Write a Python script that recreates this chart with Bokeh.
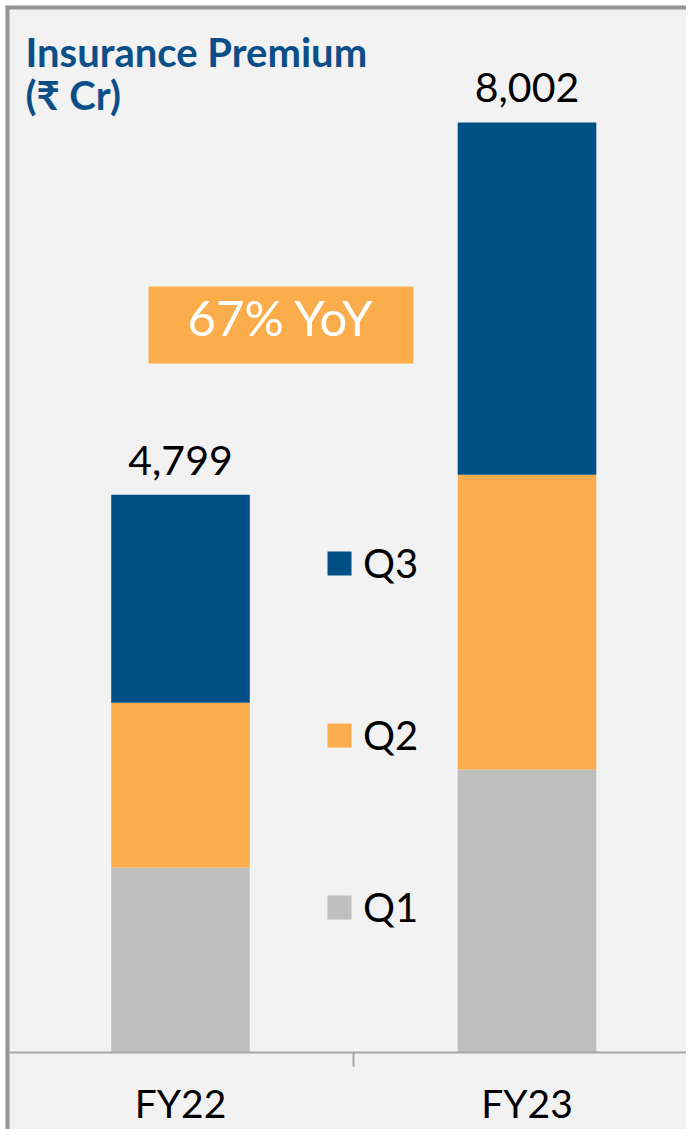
from bokeh.plotting import figure
from bokeh.models import (Range1d, Label, LabelSet, Span, FixedTicker, ColumnDataSource,
                          Legend, LegendItem, BoxAnnotation)
from bokeh.core.properties import value
from bokeh.embed import file_html
from bokeh.resources import INLINE

# ---- data ----
categories = ["FY22", "FY23"]
quarters = ["Q1", "Q2", "Q3"]
q1 = [1591, 2434]
q2 = [1419, 2538]
q3 = [1789, 3030]
colors = ["#BFBFBF", "#FBAD4C", "#005088"]
title_lines = ["Insurance Premium", "(₹ Cr)"]
yoy_text = "67% YoY"

FONT = "Lato"
W, H = 686, 1129
ML, MT = 5, 5                      # white strip left/top of the frame
X_C0, PX_X = 180.0, 346.5          # pixel centre of first category, px per category
Y_BASE, UNIT_PX = 1052.0, 8.6043   # baseline pixel row, data units per px


def dx(px):
    return 0.5 + (px - X_C0) / PX_X


def dy(py):
    return (Y_BASE - py) * UNIT_PX


x_start, x_end = dx(ML), dx(W)
y_start, y_end = dy(H), dy(MT)

xs = [i + 0.5 for i in range(len(categories))]
totals = [a + b + c for a, b, c in zip(q1, q2, q3)]
src = ColumnDataSource(dict(x=xs, Q1=q1, Q2=q2, Q3=q3, total=totals,
                            label=[f"{t:,}" for t in totals]))

p = figure(width=W, height=H, x_range=Range1d(x_start, x_end), y_range=Range1d(y_start, y_end),
           output_backend="svg", toolbar_location=None, y_axis_location=None,
           min_border_left=ML, min_border_top=MT, min_border_right=0, min_border_bottom=0,
           background_fill_color="#F2F2F2", border_fill_color="#FFFFFF", outline_line_color=None)
p.grid.visible = False

rs = p.vbar_stack(quarters, x="x", width=0.4, fill_color=colors, line_color=None, source=src)

ax = p.xaxis[0]
ax.fixed_location = 0
ax.ticker = FixedTicker(ticks=xs, minor_ticks=[(xs[i] + xs[i + 1]) / 2 for i in range(len(xs) - 1)])
ax.major_label_overrides = {x: c for x, c in zip(xs, categories)}
ax.major_tick_line_color = None
ax.major_tick_out = 0
ax.major_tick_in = 0
ax.minor_tick_line_color = "#A6A6A6"
ax.minor_tick_line_width = 2
ax.minor_tick_in = 0
ax.minor_tick_out = 14
ax.axis_line_color = "#A6A6A6"
ax.axis_line_width = 2
ax.major_label_text_font = FONT
ax.major_label_text_font_size = "39px"
ax.major_label_text_color = "#000000"
ax.major_label_standoff = 13

labels = LabelSet(x="x", y="total", text="label", source=src, y_offset=20,
                  text_align="center", text_baseline="alphabetic",
                  text_font=value(FONT), text_font_size="41px", text_color="#000000")
p.add_layout(labels)


def label_y(baseline_px, size):
    # Label draws its alphabetic baseline ~0.44em lower than the anchor
    return dy(baseline_px - 0.44 * size)


# YoY badge
p.add_layout(BoxAnnotation(left=dx(148), right=dx(413), top=dy(286), bottom=dy(363),
                           fill_color="#FBAD4C", fill_alpha=1.0, line_color=None))
p.add_layout(Label(x=dx(280.5), y=label_y(338, 49), text=yoy_text, text_align="center",
                   text_baseline="alphabetic", text_font=FONT, text_font_size="49px",
                   text_color="#FFFFFF"))

# title
for line, base in zip(title_lines, [69, 112]):
    p.add_layout(Label(x=dx(25), y=label_y(base, 40), text=line, text_align="left",
                       text_baseline="alphabetic", text_font=FONT, text_font_style="bold",
                       text_font_size="40px", text_color="#0C4F88"))

# legend
items = [LegendItem(label=q, renderers=[r]) for q, r in zip(quarters[::-1], rs[::-1])]
M = 48
legend = Legend(items=items, location=(319, 246 - M), orientation="vertical",
                glyph_width=30, glyph_height=30, label_standoff=9, label_height=30,
                label_text_font=FONT, label_text_font_size="40px", label_text_color="#000000",
                spacing=172 - M, padding=0, margin=0, background_fill_alpha=0,
                border_line_color=None)
p.add_layout(legend, "center")

# frame border (left, top)
p.add_layout(Span(location=x_start, dimension="height", line_color="#959595", line_width=8))
p.add_layout(Span(location=y_end, dimension="width", line_color="#959595", line_width=8))

open("out.html", "w").write(file_html(p, INLINE))
